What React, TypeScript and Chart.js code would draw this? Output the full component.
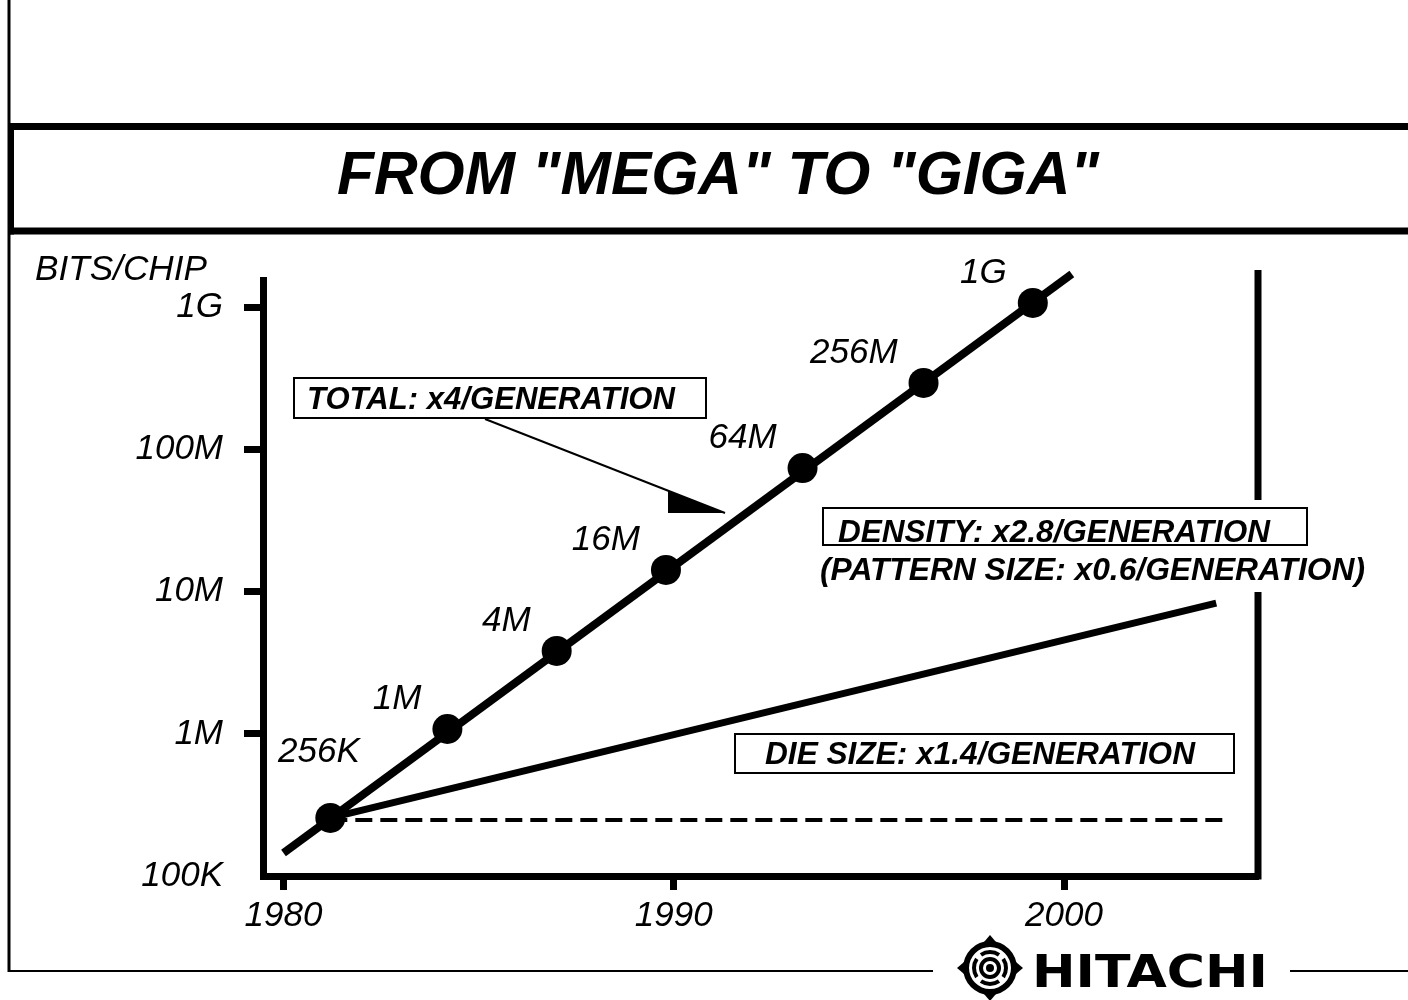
import React, { useEffect, useRef } from "react";
import { Chart, registerables } from "chart.js";

Chart.register(...registerables);

// ---- data ----
const generationLabels = ["256K", "1M", "4M", "16M", "64M", "256M", "1G"];
const generationYears = [1981.2, 1984.2, 1987.0, 1989.8, 1993.3, 1996.4, 1999.2];
const generationBits = [2.56e5, 1.08e6, 3.82e6, 1.42e7, 7.38e7, 2.93e8, 1.07e9];

const totalTrendYears = [1980.0, 2000.2];
const totalTrendBits = [1.45e5, 1.71e9];

const densityYears = [1981.2, 2003.9];
const densityBits = [2.56e5, 8.3e6];

const dieSizeYears = [1981.2, 2004.2];
const dieSizeBits = [2.48e5, 2.48e5];

const xTickYears = [1980, 1990, 2000];
const yTickValues = [1e5, 1e6, 1e7, 1e8, 1e9];
const yTickLabels = ["100K", "1M", "10M", "100M", "1G"];

const titleText = 'FROM "MEGA" TO "GIGA"';
const yAxisTitle = "BITS/CHIP";
const totalNote = "TOTAL: x4/GENERATION";
const densityNote = "DENSITY: x2.8/GENERATION";
const patternNote = "(PATTERN SIZE: x0.6/GENERATION)";
const dieNote = "DIE SIZE: x1.4/GENERATION";
const brandName = "HITACHI";

const FONT = '"Liberation Sans", Arial, Helvetica, sans-serif';

function fittedText(
  ctx: CanvasRenderingContext2D,
  text: string,
  x: number,
  baseline: number,
  width: number,
  font: string
) {
  ctx.save();
  ctx.font = font;
  ctx.textAlign = "left";
  ctx.textBaseline = "alphabetic";
  const w = ctx.measureText(text).width;
  ctx.translate(x, baseline);
  ctx.scale(width / w, 1);
  ctx.fillText(text, 0, 0);
  ctx.restore();
}

function hLine(ctx: CanvasRenderingContext2D, x1: number, x2: number, y: number, w: number) {
  ctx.beginPath();
  ctx.lineWidth = w;
  ctx.moveTo(x1, y);
  ctx.lineTo(x2, y);
  ctx.stroke();
}

function vLine(ctx: CanvasRenderingContext2D, x: number, y1: number, y2: number, w: number) {
  ctx.beginPath();
  ctx.lineWidth = w;
  ctx.moveTo(x, y1);
  ctx.lineTo(x, y2);
  ctx.stroke();
}

function drawLogo(ctx: CanvasRenderingContext2D, cx: number, cy: number) {
  ctx.save();
  ctx.fillStyle = "#000";
  for (let k = 0; k < 4; k++) {
    const a = (k * Math.PI) / 2;
    ctx.beginPath();
    ctx.moveTo(cx + Math.cos(a) * 33, cy + Math.sin(a) * 33);
    ctx.lineTo(cx + Math.cos(a + 0.4) * 24, cy + Math.sin(a + 0.4) * 24);
    ctx.lineTo(cx + Math.cos(a - 0.4) * 24, cy + Math.sin(a - 0.4) * 24);
    ctx.closePath();
    ctx.fill();
  }
  ctx.beginPath();
  ctx.arc(cx, cy, 27, 0, Math.PI * 2);
  ctx.arc(cx, cy, 21, 0, Math.PI * 2, true);
  ctx.fill();
  for (let k = 0; k < 4; k++) {
    const a = (k * Math.PI) / 2;
    ctx.beginPath();
    ctx.arc(cx, cy, 18, a - 0.6, a + 0.6);
    ctx.arc(cx, cy, 14, a + 0.6, a - 0.6, true);
    ctx.closePath();
    ctx.fill();
  }
  ctx.beginPath();
  ctx.arc(cx, cy, 11, 0, Math.PI * 2);
  ctx.arc(cx, cy, 7, 0, Math.PI * 2, true);
  ctx.fill();
  ctx.beginPath();
  ctx.arc(cx, cy, 4, 0, Math.PI * 2);
  ctx.fill();
  ctx.restore();
}

const slidePlugin = {
  id: "slide",
  beforeDraw(chart: any) {
    const ctx: CanvasRenderingContext2D = chart.ctx;
    ctx.save();
    ctx.fillStyle = "#fff";
    ctx.fillRect(0, 0, chart.width, chart.height);
    ctx.restore();
  },
  afterDraw(chart: any) {
    const ctx: CanvasRenderingContext2D = chart.ctx;
    const area = chart.chartArea;
    ctx.save();
    ctx.strokeStyle = "#000";
    ctx.fillStyle = "#000";
    ctx.lineCap = "butt";

    // page frame
    vLine(ctx, 9, 0, 972, 3);
    hLine(ctx, 8, 1408, 126.5, 7);
    hLine(ctx, 8, 1408, 231, 7);
    vLine(ctx, 11, 123, 234.5, 6);
    hLine(ctx, 8, 933, 971, 2);
    hLine(ctx, 1290, 1408, 971, 2);

    // right frame of plot, interrupted by the density note
    vLine(ctx, area.right, area.top - 10, 500, 7);
    vLine(ctx, area.right, 592, area.bottom + 3.5, 7);

    // title
    fittedText(ctx, titleText, 337, 194, 762, `italic bold 61px ${FONT}`);
    // axis title
    fittedText(ctx, yAxisTitle, 35, 280, 172, `italic 35px ${FONT}`);

    // generation labels on the points
    const meta = chart.getDatasetMeta(0);
    ctx.font = `italic 35px ${FONT}`;
    ctx.textBaseline = "alphabetic";
    meta.data.forEach((pt: any, i: number) => {
      const label = generationLabels[i];
      const w = ctx.measureText(label).width;
      const right = pt.x - 26;
      if (right - w < area.left + 10) {
        ctx.textAlign = "left";
        ctx.fillText(label, area.left + 15, pt.y - 56);
      } else {
        ctx.textAlign = "right";
        ctx.fillText(label, right, pt.y - 20);
      }
    });

    // notes
    const noteFont = `italic bold 32px ${FONT}`;
    ctx.lineWidth = 2;
    ctx.strokeRect(294, 378, 412, 40);
    fittedText(ctx, totalNote, 307, 409, 368, noteFont);

    ctx.lineWidth = 2;
    ctx.strokeRect(823, 508, 484, 37);
    fittedText(ctx, densityNote, 838, 542, 432, noteFont);
    fittedText(ctx, patternNote, 820, 580, 545, noteFont);

    ctx.lineWidth = 2;
    ctx.strokeRect(735, 734, 499, 39);
    fittedText(ctx, dieNote, 765, 764, 430, noteFont);

    // arrow from TOTAL note
    ctx.beginPath();
    ctx.lineWidth = 2;
    ctx.moveTo(485, 419);
    ctx.lineTo(725, 513);
    ctx.stroke();
    ctx.beginPath();
    ctx.moveTo(668, 491);
    ctx.lineTo(725, 513);
    ctx.lineTo(668, 513);
    ctx.closePath();
    ctx.fill();

    // brand
    drawLogo(ctx, 990, 968);
    fittedText(ctx, brandName, 1032, 987, 236, `bold 45px "DejaVu Sans", ${FONT}`);

    ctx.restore();
  },
};

export default function App() {
  const canvasRef = useRef<HTMLCanvasElement | null>(null);

  useEffect(() => {
    if (!canvasRef.current) return;
    const toPoints = (xs: number[], ys: number[]) => xs.map((x, i) => ({ x, y: ys[i] }));

    const chart = new Chart(canvasRef.current, {
      type: "line",
      data: {
        datasets: [
          {
            label: "Generations",
            data: toPoints(generationYears, generationBits),
            showLine: false,
            pointRadius: 15,
            pointHoverRadius: 15,
            pointBackgroundColor: "#000",
            pointBorderColor: "#000",
            pointBorderWidth: 0,
            order: 0,
          },
          {
            label: "Total",
            data: toPoints(totalTrendYears, totalTrendBits),
            borderColor: "#000",
            borderWidth: 8,
            pointRadius: 0,
            borderCapStyle: "butt",
            clip: false,
            order: 1,
          },
          {
            label: "Density",
            data: toPoints(densityYears, densityBits),
            borderColor: "#000",
            borderWidth: 7,
            pointRadius: 0,
            clip: false,
            order: 2,
          },
          {
            label: "Die size",
            data: toPoints(dieSizeYears, dieSizeBits),
            borderColor: "#000",
            borderWidth: 4,
            borderDash: [17, 8],
            pointRadius: 0,
            clip: false,
            order: 3,
          },
        ] as any,
      },
      options: {
        animation: false,
        responsive: false,
        maintainAspectRatio: false,
        devicePixelRatio: 1,
        events: [],
        layout: { padding: { top: 280, right: 150, bottom: 0, left: 0 } },
        plugins: {
          legend: { display: false },
          tooltip: { enabled: false },
          title: { display: false },
        },
        scales: {
          x: {
            type: "linear",
            position: "bottom",
            min: 1979.475,
            max: 2004.97,
            afterFit: (s: any) => {
              s.height = 124;
            },
            afterBuildTicks: (s: any) => {
              s.ticks = xTickYears.map((v) => ({ value: v }));
            },
            grid: {
              display: true,
              drawOnChartArea: false,
              drawTicks: true,
              tickLength: 14,
              tickWidth: 7,
              tickColor: "#000",
            },
            border: { display: true, width: 7, color: "#000" },
            ticks: {
              color: "#000",
              padding: 5,
              autoSkip: false,
              maxRotation: 0,
              font: { family: FONT, size: 35, style: "italic" },
              callback: (v: any) => String(v),
            },
          },
          y: {
            type: "logarithmic",
            position: "left",
            min: 1e5,
            max: 1.55e9,
            afterFit: (s: any) => {
              s.width = 263;
            },
            afterBuildTicks: (s: any) => {
              s.ticks = yTickValues.map((v) => ({ value: v }));
            },
            grid: {
              display: true,
              drawOnChartArea: false,
              drawTicks: true,
              tickLength: 19,
              tickWidth: 7,
              tickColor: (c: any) => (c.tick && c.tick.value === yTickValues[0] ? "rgba(0,0,0,0)" : "#000"),
            },
            border: { display: true, width: 7, color: "#000" },
            ticks: {
              color: "#000",
              padding: 21,
              autoSkip: false,
              font: { family: FONT, size: 35, style: "italic" },
              callback: (v: any) => {
                const i = yTickValues.indexOf(Number(v));
                return i >= 0 ? yTickLabels[i] : "";
              },
            },
          },
        },
      } as any,
      plugins: [slidePlugin],
    });

    return () => {
      chart.destroy();
    };
  }, []);

  return (
    <div style={{ position: "fixed", left: 0, top: 0, width: 1408, height: 1000, background: "#fff" }}>
      <canvas ref={canvasRef} width={1408} height={1000} style={{ width: 1408, height: 1000, display: "block" }} />
    </div>
  );
}
